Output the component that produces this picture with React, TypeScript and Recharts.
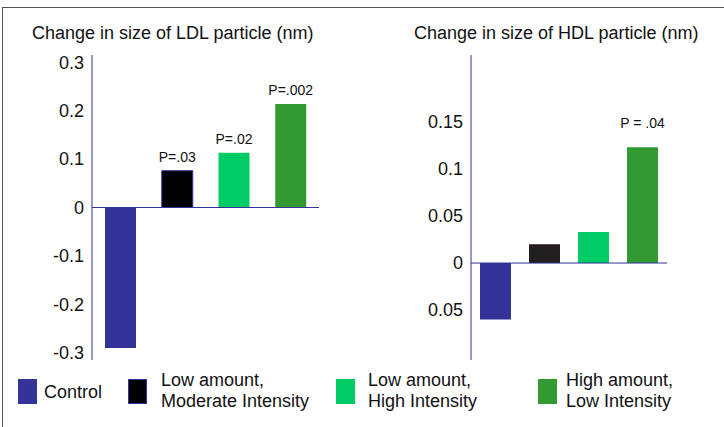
import React from 'react';
import { BarChart, Bar, XAxis, YAxis, Cell, ReferenceLine, LabelList } from 'recharts';

const categories = [
  'Control',
  'Low amount, Moderate Intensity',
  'Low amount, High Intensity',
  'High amount, Low Intensity',
];
const legendLines = [
  ['Control'],
  ['Low amount,', 'Moderate Intensity'],
  ['Low amount,', 'High Intensity'],
  ['High amount,', 'Low Intensity'],
];
const ldlValues = [-0.29, 0.076, 0.113, 0.214];
const hdlValues = [-0.06, 0.02, 0.033, 0.123];
const ldlPLabels = ['', 'P=.03', 'P=.02', 'P=.002'];
const hdlPLabels = ['', '', '', 'P = .04'];
const ldlTicks = [-0.3, -0.2, -0.1, 0, 0.1, 0.2, 0.3];
const hdlTicks = [-0.05, 0, 0.05, 0.1, 0.15];
const ldlTitle = 'Change in size of LDL particle (nm)';
const hdlTitle = 'Change in size of HDL particle (nm)';

const barColors = ['#333399', '#000000', '#00cc66', '#339933'];
const hdlBarColors = ['#333399', '#231f20', '#00cc66', '#339933'];
const AXIS = '#333399';
const FONT = '"Liberation Sans", Arial, Helvetica, sans-serif';

const ldlData = categories.map((c, i) => ({ name: c, value: ldlValues[i], p: ldlPLabels[i] }));
const hdlData = categories.map((c, i) => ({ name: c, value: hdlValues[i], p: hdlPLabels[i] }));

const fmtLdl = (v: number) => (v === 0 ? '0' : String(v));
const fmtHdl = (v: number) => (v === 0 ? '0' : String(Math.abs(v)));

const makePLabel = (gap: number) => (props: any) => {
  const { x, y, width, value } = props;
  if (!value) return null;
  return (
    <text
      x={Number(x) + Number(width) / 2}
      y={Number(y) - gap}
      textAnchor="middle"
      fontSize={14}
      fill="#111"
    >
      {value}
    </text>
  );
};

export default function App() {
  const swatchX = [18, 128, 336, 538];
  const textX = [44, 161, 368, 566];
  return (
    <div
      style={{
        position: 'fixed',
        left: 0,
        top: 0,
        width: 724,
        height: 427,
        background: '#fff',
        fontFamily: FONT,
        color: '#111',
        overflow: 'hidden',
      }}
    >
      <div style={{ position: 'absolute', left: 2, top: 7, width: 722, height: 0, borderTop: '1.5px solid #555' }} />
      <div style={{ position: 'absolute', left: 2, top: 7, width: 0, height: 420, borderLeft: '1.5px solid #555' }} />

      <div style={{ position: 'absolute', left: 32, top: 23, fontSize: 18, lineHeight: '21px', whiteSpace: 'nowrap' }}>
        {ldlTitle}
      </div>
      <div style={{ position: 'absolute', left: 414, top: 23, fontSize: 18, lineHeight: '21px', whiteSpace: 'nowrap' }}>
        {hdlTitle}
      </div>

      <div style={{ position: 'absolute', left: 0, top: 0 }}>
        <BarChart width={340} height={380} data={ldlData} margin={{ top: 55, right: 21, bottom: 20, left: 0 }}>
          <XAxis dataKey="name" hide />
          <YAxis
            width={92}
            domain={[-0.315, 0.315]}
            ticks={ldlTicks}
            tickFormatter={fmtLdl}
            axisLine={{ stroke: AXIS, strokeWidth: 1 }}
            tickLine={false}
            tick={{ fontSize: 18, fill: '#111' }}
            interval={0}
            allowDataOverflow
          />
          <ReferenceLine y={0} stroke={AXIS} strokeWidth={1} />
          <Bar dataKey="value" barSize={31} isAnimationActive={false}>
            {ldlData.map((d, i) => (
              <Cell key={i} fill={barColors[i]} stroke={i === 1 ? AXIS : 'none'} strokeWidth={1} />
            ))}
            <LabelList dataKey="p" content={makePLabel(9)} />
          </Bar>
        </BarChart>
      </div>

      <div style={{ position: 'absolute', left: 362, top: 0 }}>
        <BarChart width={362} height={380} data={hdlData} margin={{ top: 55, right: 57, bottom: 20, left: 0 }}>
          <XAxis dataKey="name" hide />
          <YAxis
            width={109}
            domain={[-0.103, 0.221]}
            ticks={hdlTicks}
            tickFormatter={fmtHdl}
            axisLine={{ stroke: AXIS, strokeWidth: 1 }}
            tickLine={false}
            tick={{ fontSize: 18, fill: '#111' }}
            interval={0}
            allowDataOverflow
          />
          <ReferenceLine y={0} stroke={AXIS} strokeWidth={1} />
          <Bar dataKey="value" barSize={31} isAnimationActive={false}>
            {hdlData.map((d, i) => (
              <Cell key={i} fill={hdlBarColors[i]} />
            ))}
            <LabelList dataKey="p" content={makePLabel(19)} />
          </Bar>
        </BarChart>
      </div>

      {legendLines.map((lines, i) => (
        <React.Fragment key={i}>
          <div
            style={{
              position: 'absolute',
              left: swatchX[i],
              top: 379,
              width: 19,
              height: 25,
              background: barColors[i],
              boxSizing: 'border-box',
              border: i === 1 ? `1px solid ${AXIS}` : 'none',
            }}
          />
          <div
            style={{
              position: 'absolute',
              left: textX[i],
              top: lines.length === 1 ? 382 : 370,
              fontSize: 18,
              lineHeight: '21px',
              whiteSpace: 'nowrap',
            }}
          >
            {lines.map((l, j) => (
              <div key={j}>{l}</div>
            ))}
          </div>
        </React.Fragment>
      ))}
    </div>
  );
}
